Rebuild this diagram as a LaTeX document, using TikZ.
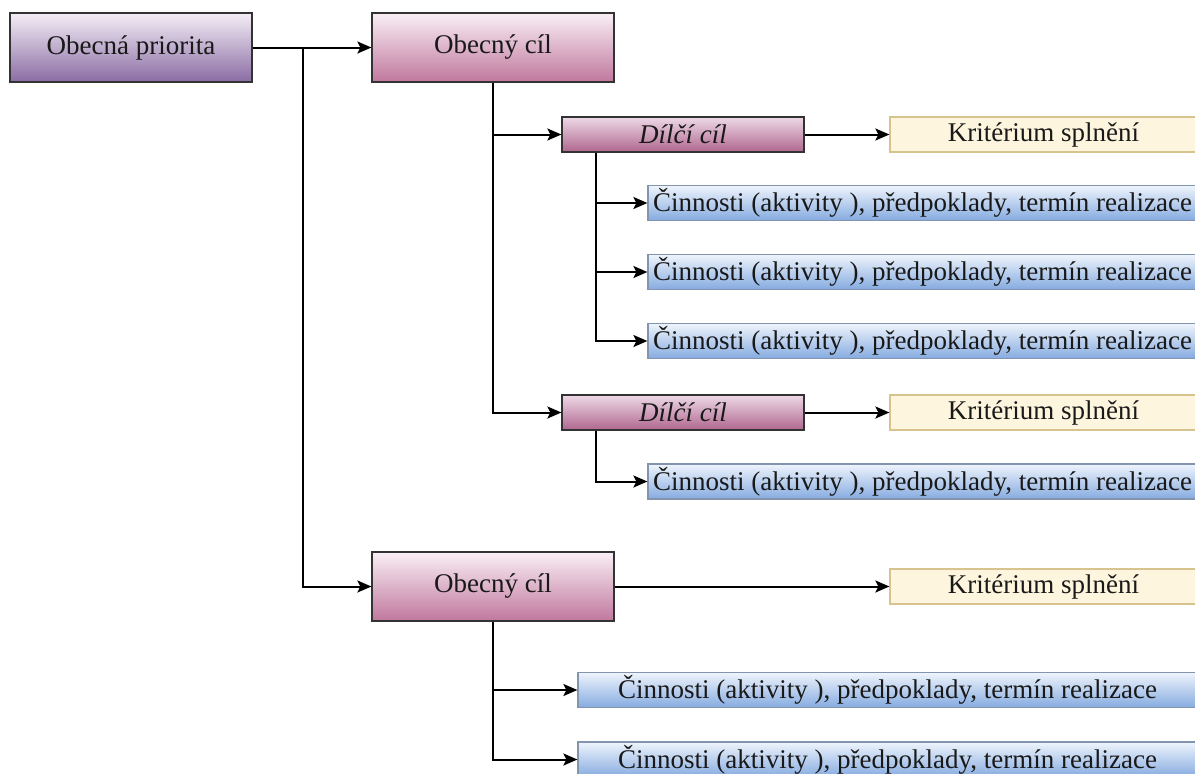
\documentclass[tikz,border=0pt]{standalone}
\usepackage{fontspec}
\setmainfont{Liberation Serif}
\newfontfamily\boxfont{Liberation Serif}
\usetikzlibrary{arrows.meta}

\definecolor{prioTop}{HTML}{F4EEF6}
\definecolor{prioBot}{HTML}{8A6CA3}
\definecolor{goalTop}{HTML}{F9EFF5}
\definecolor{goalBot}{HTML}{C0779D}
\definecolor{subTop}{HTML}{EDD9E6}
\definecolor{subBot}{HTML}{B0668F}
\definecolor{critFill}{HTML}{FDF5DD}
\definecolor{critLine}{HTML}{D6C38E}
\definecolor{actTop}{HTML}{EEF4FC}
\definecolor{actBot}{HTML}{86ABE0}
\definecolor{actLine}{HTML}{8294AE}

\begin{document}
\begin{tikzpicture}[x=0.5pt, y=-0.5pt,
  font=\boxfont\fontsize{13.5}{16}\selectfont,
  box/.style={draw=black!80, line width=0.6pt, inner sep=0pt, text=black!90},
  prio/.style={box, minimum width=121pt, minimum height=34.5pt, top color=prioTop, bottom color=prioBot},
  goal/.style={box, minimum width=121pt, minimum height=34.5pt, top color=goalTop, bottom color=goalBot},
  sub/.style={box, minimum width=121pt, minimum height=17.5pt, top color=subTop, bottom color=subBot,
    font=\boxfont\fontsize{13.5}{16}\selectfont\itshape},
  crit/.style={box, draw=critLine, fill=critFill, minimum width=153.5pt, minimum height=17.5pt},
  act/.style={box, draw=actLine, top color=actTop, bottom color=actBot, minimum width=274.5pt, minimum height=17.5pt},
  link/.style={line width=1pt, -{Stealth[length=7pt,width=6pt,inset=1.5pt]}}]
\clip (0,0) rectangle (1195,773);
\fill[white] (0,0) rectangle (1195,773);

\node[prio] (prio0) at (131,47.5) {Obecná priorita};
\node[goal] (goal1) at (493,47.5) {Obecný cíl};
\node[goal] (goal2) at (493,586.5) {Obecný cíl};
\coordinate (fork0) at (303,47.5);
\draw[link] (prio0) -- (goal1);
\draw[link] (fork0) |- (goal2);

% first general goal
\node[sub] (sub1) at (683,134.5) {Dílčí cíl};
\node[crit] (crit1) at (1043.5,134.5) {Kritérium splnění};
\node[act] (act1) at (922.5,203) {Činnosti (aktivity ), předpoklady, termín realizace};
\node[act] (act2) at (922.5,272) {Činnosti (aktivity ), předpoklady, termín realizace};
\node[act] (act3) at (922.5,341) {Činnosti (aktivity ), předpoklady, termín realizace};
\draw[link] (goal1) |- (sub1);
\draw[link] (sub1) -- (crit1);
\draw[link] ([xshift=17.5pt]sub1.south west) |- (act1);
\draw[link] ([xshift=17.5pt]sub1.south west) |- (act2);
\draw[link] ([xshift=17.5pt]sub1.south west) |- (act3);

\node[sub] (sub2) at (683,412.5) {Dílčí cíl};
\node[crit] (crit2) at (1043.5,412.5) {Kritérium splnění};
\node[act] (act4) at (922.5,481.5) {Činnosti (aktivity ), předpoklady, termín realizace};
\draw[link] (goal1) |- (sub2);
\draw[link] (sub2) -- (crit2);
\draw[link] ([xshift=17.5pt]sub2.south west) |- (act4);

% second general goal
\node[crit] (crit3) at (1043.5,586.5) {Kritérium splnění};
\node[act, minimum width=309.5pt] (act5) at (887.5,690) {Činnosti (aktivity ), předpoklady, termín realizace};
\node[act, minimum width=309.5pt] (act6) at (887.5,759.5) {Činnosti (aktivity ), předpoklady, termín realizace};
\draw[link] (goal2) -- (crit3);
\draw[link] (goal2) |- (act5);
\draw[link] (goal2) |- (act6);

\end{tikzpicture}
\end{document}
